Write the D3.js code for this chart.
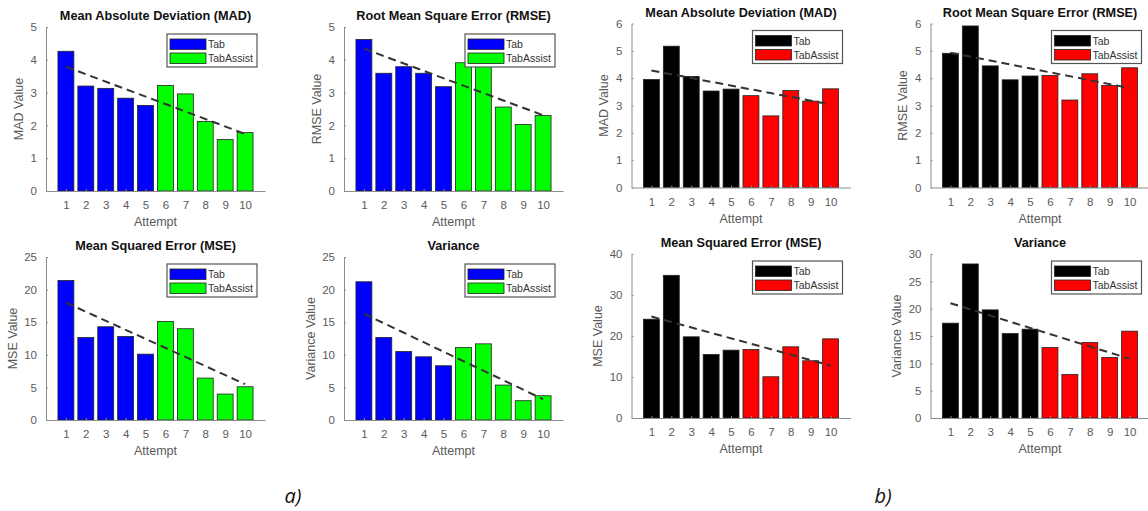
<!DOCTYPE html>
<html>
<head>
<meta charset="utf-8">
<script src="https://cdn.jsdelivr.net/npm/d3@7"></script>
<style>
  body { margin: 0; background: #fff; }
  svg { display: block; font-family: "Liberation Sans", Arial, sans-serif; }
</style>
</head>
<body>
<div class="chart"></div>
<script>
// attempts and which tool each attempt used
var attempts = [1, 2, 3, 4, 5, 6, 7, 8, 9, 10];
var attemptGroup = ["Tab", "Tab", "Tab", "Tab", "Tab", "TabAssist", "TabAssist", "TabAssist", "TabAssist", "TabAssist"];
var legendNames = ["Tab", "TabAssist"];

// a) values
var madA  = [4.26, 3.20, 3.13, 2.83, 2.61, 3.22, 2.96, 2.12, 1.57, 1.78];
var rmseA = [4.62, 3.59, 3.79, 3.59, 3.18, 3.91, 3.80, 2.56, 2.03, 2.30];
var mseA  = [21.4, 12.65, 14.3, 12.8, 10.1, 15.1, 14.0, 6.43, 3.98, 5.1];
var varA  = [21.2, 12.65, 10.5, 9.69, 8.32, 11.12, 11.68, 5.36, 2.96, 3.72];

// b) values
var madB  = [3.95, 5.17, 4.06, 3.53, 3.60, 3.36, 2.62, 3.55, 3.16, 3.61];
var rmseB = [4.91, 5.91, 4.45, 3.94, 4.08, 4.10, 3.20, 4.16, 3.73, 4.38];
var mseB  = [24.1, 34.8, 19.8, 15.5, 16.55, 16.7, 10.06, 17.36, 13.96, 19.31];
var varB  = [17.35, 28.18, 19.78, 15.46, 16.25, 12.9, 7.97, 13.82, 11.08, 15.89];

// dashed trend line, value at attempt 1 and attempt 10
var trendMadA = [3.79, 1.74];
var trendRmseA = [4.34, 2.31];
var trendMseA = [18.0, 5.5];
var trendVarA = [16.3, 3.2];
var trendMadB = [4.28, 3.04];
var trendRmseB = [4.93, 3.64];
var trendMseB = [24.75, 12.8];
var trendVarB = [21.0, 10.83];

// y tick labels
var ticks5 = [0, 1, 2, 3, 4, 5];
var ticks6 = [0, 1, 2, 3, 4, 5, 6];
var ticks25 = [0, 5, 10, 15, 20, 25];
var ticks30 = [0, 5, 10, 15, 20, 25, 30];
var ticks40 = [0, 10, 20, 30, 40];

var colorsA = { Tab: "#0000ff", TabAssist: "#00ff00" };
var colorsB = { Tab: "#000000", TabAssist: "#ff0000" };

var panels = [
  { left: 46,    top: 27,    h: 164, title: "Mean Absolute Deviation (MAD)", ylab: "MAD Value",      vals: madA,  trend: trendMadA,  ticks: ticks5,  colors: colorsA },
  { left: 344,   top: 27,    h: 164, title: "Root Mean Square Error (RMSE)", ylab: "RMSE Value",     vals: rmseA, trend: trendRmseA, ticks: ticks5,  colors: colorsA },
  { left: 46,    top: 257,   h: 163, title: "Mean Squared Error (MSE)",      ylab: "MSE Value",      vals: mseA,  trend: trendMseA,  ticks: ticks25, colors: colorsA },
  { left: 344,   top: 257,   h: 163, title: "Variance",                      ylab: "Variance Value", vals: varA,  trend: trendVarA,  ticks: ticks25, colors: colorsA },
  { left: 631.5, top: 23.5,  h: 164, title: "Mean Absolute Deviation (MAD)", ylab: "MAD Value",      vals: madB,  trend: trendMadB,  ticks: ticks6,  colors: colorsB },
  { left: 930.5, top: 23.5,  h: 164, title: "Root Mean Square Error (RMSE)", ylab: "RMSE Value",     vals: rmseB, trend: trendRmseB, ticks: ticks6,  colors: colorsB },
  { left: 631.5, top: 254,   h: 164, title: "Mean Squared Error (MSE)",      ylab: "MSE Value",      vals: mseB,  trend: trendMseB,  ticks: ticks40, colors: colorsB },
  { left: 930.5, top: 254,   h: 164, title: "Variance",                      ylab: "Variance Value", vals: varB,  trend: trendVarB,  ticks: ticks30, colors: colorsB }
];

var width = 1148, height = 511, plotW = 219;
var axisGray = "#8c8c8c", textGray = "#5a5a5a";

var svg = d3.select('.chart')
    .append('svg')
    .attr('width', width)
    .attr('height', height);

panels.forEach(function (p) {
  var g = svg.append('g').attr('transform', 'translate(' + p.left + ',' + p.top + ')');

  var x = d3.scaleLinear().domain([0, 11]).range([0, plotW]);
  var y = d3.scaleLinear().domain([0, d3.max(p.ticks)]).range([p.h, 0]);
  var bw = (x(1) - x(0)) * 0.8;

  // bars
  g.selectAll('rect.bar')
    .data(p.vals)
    .enter().append('rect')
    .attr('class', 'bar')
    .attr('x', function (d, i) { return x(attempts[i]) - bw / 2; })
    .attr('y', function (d) { return y(d); })
    .attr('width', bw)
    .attr('height', function (d) { return p.h - y(d); })
    .style('fill', function (d, i) { return p.colors[attemptGroup[i]]; })
    .style('stroke', '#222')
    .style('stroke-width', 0.8);

  // trend
  g.append('line')
    .attr('x1', x(attempts[0])).attr('y1', y(p.trend[0]))
    .attr('x2', x(attempts[9])).attr('y2', y(p.trend[1]))
    .style('stroke', '#333')
    .style('stroke-width', 2)
    .style('stroke-dasharray', '8,5');

  // axes
  var yAxis = d3.axisLeft(y).tickValues(p.ticks).tickFormat(d3.format('d'))
    .tickSizeInner(-2).tickSizeOuter(0).tickPadding(9);
  var ya = g.append('g').call(yAxis);
  var xAxis = d3.axisBottom(x).tickValues(attempts).tickFormat(d3.format('d'))
    .tickSizeInner(-2).tickSizeOuter(0).tickPadding(10);
  var xa = g.append('g').attr('transform', 'translate(0,' + p.h + ')').call(xAxis);
  [ya, xa].forEach(function (a) {
    a.select('.domain').style('stroke', axisGray);
    a.selectAll('.tick line').style('stroke', axisGray);
    a.selectAll('.tick text').style('fill', textGray).style('font-size', '11.5px')
      .style('font-family', '"Liberation Sans", Arial, sans-serif');
  });

  var maxW = 0;
  ya.selectAll('.tick text').each(function () { maxW = Math.max(maxW, this.getComputedTextLength()); });

  g.append('text')
    .attr('transform', 'translate(' + (-9 - maxW - 12) + ',' + (p.h / 2) + ') rotate(-90)')
    .attr('text-anchor', 'middle')
    .attr('dy', '0.35em')
    .style('font-size', '12.5px')
    .style('fill', textGray)
    .text(p.ylab);

  g.append('text')
    .attr('x', plotW / 2)
    .attr('y', p.h + 31)
    .attr('dy', '0.35em')
    .attr('text-anchor', 'middle')
    .style('font-size', '12.5px')
    .style('fill', textGray)
    .text('Attempt');

  g.append('text')
    .attr('x', plotW / 2)
    .attr('y', -11)
    .attr('dy', '0.35em')
    .attr('text-anchor', 'middle')
    .style('font-size', '12.7px')
    .style('font-weight', 'bold')
    .style('fill', '#111')
    .text(p.title);

  // legend
  var lg = g.append('g').attr('transform', 'translate(' + (plotW - 8 - 90) + ',7)');
  lg.append('rect')
    .attr('width', 90).attr('height', 33)
    .style('fill', '#fff').style('stroke', '#555').style('stroke-width', 1.2);
  legendNames.forEach(function (name, i) {
    lg.append('rect')
      .attr('x', 3).attr('y', 5 + i * 14)
      .attr('width', 36).attr('height', 10.5)
      .style('fill', p.colors[name]).style('stroke', '#222').style('stroke-width', 0.8);
    lg.append('text')
      .attr('x', 41).attr('y', 10.5 + i * 14)
      .attr('dy', '0.35em')
      .style('font-size', '10.5px')
      .style('fill', '#333')
      .text(name);
  });
});

svg.append('text').attr('x', 293).attr('y', 503)
  .attr('text-anchor', 'middle')
  .style('font-size', '20px').style('font-style', 'italic').style('fill', '#111')
  .style('font-family', '"Open Sans", sans-serif')
  .text('a)');
svg.append('text').attr('x', 883).attr('y', 503)
  .attr('text-anchor', 'middle')
  .style('font-size', '20px').style('font-style', 'italic').style('fill', '#111')
  .style('font-family', '"Open Sans", sans-serif')
  .text('b)');
</script>
</body>
</html>
